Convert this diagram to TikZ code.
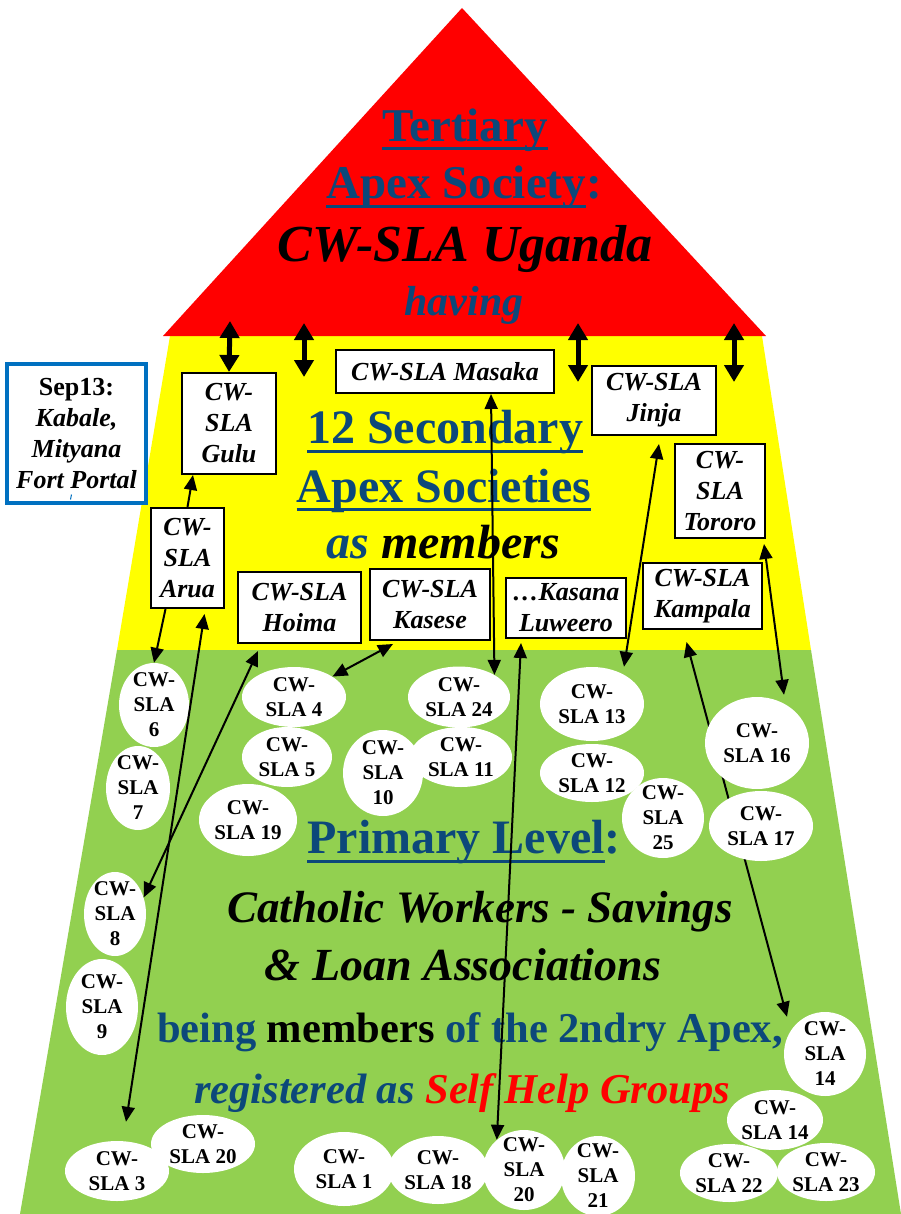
\documentclass[tikz,border=0pt]{standalone}
\usepackage{fontspec}
\setmainfont{Liberation Serif}
\usetikzlibrary{arrows.meta,shapes.geometric}
\definecolor{dblue}{RGB}{12,72,122}
\definecolor{pgreen}{RGB}{146,208,80}
\definecolor{boxblue}{RGB}{0,112,192}
\definecolor{pred}{RGB}{255,0,0}
\definecolor{pyellow}{RGB}{255,255,0}
\newcommand\myul[2][-9pt]{\setbox0=\hbox{#2}\rlap{\rule[#1]{\wd0}{3pt}}\box0}
\newcommand\ov[5]{\node[oval,minimum width=#3pt,minimum height=#4pt,label={[olbl]center:{#5}}] (#1) at (#2) {};}
\pgfdeclarelayer{back}\pgfdeclarelayer{mid}\pgfsetlayers{back,mid,main}
\begin{document}
\begin{tikzpicture}[x=1pt,y=-1pt,
  sbox/.style={draw=black,line width=2pt,fill=white,inner sep=0pt,align=center,font=\fontsize{26}{31}\selectfont\bfseries\itshape},
  oval/.style={ellipse,fill=white,inner sep=0pt},
  olbl/.style={align=center,inner sep=0pt,font=\fontsize{21}{25}\selectfont\bfseries},
  txt/.style={anchor=base,inner sep=0pt},
  conn/.style={line width=2pt,{Triangle[length=15pt,width=13pt]}-{Triangle[length=15pt,width=13pt]}},
  conn1/.style={line width=2pt,-{Triangle[length=15pt,width=13pt]}},
  link/.style={line width=5pt,{Triangle[length=17pt,width=19pt]}-{Triangle[length=17pt,width=19pt]}}]
\useasboundingbox (0,0) rectangle (901,1214);
\begin{pgfonlayer}{back}
\fill[pyellow] (170,336) -- (762,336) -- (811,650) -- (117,650) -- cycle;
\fill[pgreen] (117,650) -- (811,650) -- (901,1214) -- (20,1214) -- cycle;
\fill[pred] (462,8) -- (766,336) -- (163,336) -- cycle;
\end{pgfonlayer}

% red texts
\node[txt,font=\fontsize{47}{47}\selectfont\bfseries,text=dblue] (t1) at (465,142) {\myul[-8pt]{Tertiary}};
\node[txt,font=\fontsize{47}{47}\selectfont\bfseries,text=dblue] (t2) at (464,199) {\myul[-9pt]{Apex Society}:};
\node[txt,font=\fontsize{52}{52}\selectfont\bfseries\itshape] (t3) at (465,262) {CW-SLA Uganda};
\node[txt,font=\fontsize{42}{42}\selectfont\bfseries\itshape,text=dblue] (t4) at (464,315) {having};

% yellow texts
\node[txt,font=\fontsize{48}{48}\selectfont\bfseries,text=dblue] (s1) at (445,443) {\myul[-10pt]{12 Secondary}};
\node[txt,font=\fontsize{48}{48}\selectfont\bfseries,text=dblue] (s2) at (444,502) {\myul[-8.5pt]{Apex Societies}};
\node[txt,font=\fontsize{48}{48}\selectfont\bfseries\itshape] (s3) at (443,558) {\textcolor{dblue}{as} members};

% green texts
\node[txt,font=\fontsize{48}{48}\selectfont\bfseries,text=dblue] (p1) at (464,853) {\myul[-9.5pt]{Primary Level}:};
\node[txt,font=\fontsize{45}{45}\selectfont\bfseries\itshape] (p2) at (480,922) {Catholic Workers - Savings};
\node[txt,font=\fontsize{46}{46}\selectfont\bfseries\itshape] (p3) at (463,980) {\& Loan Associations};
\node[txt,font=\fontsize{42.5}{42.5}\selectfont\bfseries] (p4) at (470,1042) {\textcolor{dblue}{being} members \textcolor{dblue}{of the 2ndry Apex,}};
\node[txt,font=\fontsize{42.5}{42.5}\selectfont\bfseries\itshape] (p5) at (462,1103) {\textcolor{dblue}{registered as} \textcolor{pred}{Self Help Groups}};

% boxes
\node[sbox,draw=boxblue,line width=3.5pt,minimum width=139pt,minimum height=139pt] (sep) at (76.5,433.5) {{\upshape Sep13:}\\Kabale,\\Mityana\\Fort Portal};
\draw[boxblue,line width=1pt] (sep.center) ++(-5,61) -- ++(-1,5);
\node[sbox,minimum width=94pt,minimum height=101pt] (gulu) at (229,423.5) {CW-\\SLA\\Gulu};
\node[sbox,minimum width=73pt,minimum height=100pt] (arua) at (187.5,558) {CW-\\SLA\\Arua};
\node[sbox,minimum width=123pt,minimum height=71pt] (hoima) at (299.5,607.5) {CW-SLA\\Hoima};
\node[sbox,minimum width=120pt,minimum height=71pt] (kasese) at (430,604.5) {CW-SLA\\Kasese};
\node[sbox,minimum width=218pt,minimum height=43pt] (masaka) at (445,371.5) {CW-SLA Masaka};
\node[sbox,minimum width=124pt,minimum height=69pt] (jinja) at (654,400.5) {CW-SLA\\Jinja};
\node[sbox,minimum width=90pt,minimum height=94pt] (tororo) at (720,491) {CW-\\SLA\\Tororo};
\node[sbox,minimum width=120pt,minimum height=60pt] (kasana) at (566,608) {…Kasana\\Luweero};
\node[sbox,minimum width=119pt,minimum height=66pt] (kampala) at (702.5,596) {CW-SLA\\Kampala};

% ellipses
\ov{e6}{154,705}{70}{84}{CW-\\SLA\\6}
\ov{e7}{138,788}{64}{84}{CW-\\SLA\\7}
\ov{e4}{294,697}{104}{60}{CW-\\SLA 4}
\ov{e5}{287,757}{90}{60}{CW-\\SLA 5}
\ov{e19}{248,820}{98}{72}{CW-\\SLA 19}
\ov{e10}{383,773}{80}{86}{CW-\\SLA\\10}
\ov{e24}{459,697}{102}{61}{CW-\\SLA 24}
\ov{e11}{461,757}{102}{60}{CW-\\SLA 11}
\ov{e13}{592,704}{104}{74}{CW-\\SLA 13}
\ov{e12}{592,773}{104}{58}{CW-\\SLA 12}
\ov{e25}{663,818}{82}{80}{CW-\\SLA\\25}
\ov{e16}{757,743}{104}{92}{CW-\\SLA 16}
\ov{e17}{761,826}{104}{70}{CW-\\SLA 17}
\ov{e8}{115,914}{62}{84}{CW-\\SLA\\8}
\ov{e9}{102,1007}{72}{96}{CW-\\SLA\\9}
\ov{e3}{117,1171}{104}{60}{CW-\\SLA 3}
\ov{e20a}{203,1144}{104}{58}{CW-\\SLA 20}
\ov{e1}{344,1169}{100}{74}{CW-\\SLA 1}
\ov{e18}{438,1170}{100}{68}{CW-\\SLA 18}
\ov{e21}{598,1176}{74}{80}{CW-\\SLA\\21}
\ov{e20b}{524,1170}{82}{80}{CW-\\SLA\\20}
\ov{e14a}{825,1054}{82}{84}{CW-\\SLA\\14}
\ov{e22}{729,1173}{98}{58}{CW-\\SLA 22}
\ov{e23}{826,1172}{98}{58}{CW-\\SLA 23}
\ov{e14b}{775,1120}{96}{60}{CW-\\SLA 14}

% thick links red -> yellow
\coordinate (r1) at (230,321);
\coordinate (r2a) at (304,323); \coordinate (r2b) at (304,377);
\coordinate (r3a) at (578,323); \coordinate (r3b) at (578,382);
\coordinate (r4a) at (734,323); \coordinate (r4b) at (734,382);
\draw[link] (r1) -- (gulu.north);
\draw[link] (r2a) -- (r2b);
\draw[link] (r3a) -- (r3b);
\draw[link] (r4a) -- (r4b);

% thin connectors
\draw[conn1] (arua.north) -- ([xshift=-36pt]gulu.south);
\draw[conn1] ([xshift=-22pt]arua.south) -- (e6.north);
\draw[conn] ([xshift=17pt,yshift=-5pt]arua.south) -- ([xshift=9pt,yshift=19pt]e3.north);
\draw[conn] ([xshift=-41.5pt,yshift=-7pt]hoima.south) -- (e8.30);
\draw[conn] ([xshift=-37pt,yshift=-3pt]kasese.south) -- (e4.28);
\draw[conn] ([xshift=46pt]masaka.south) -- (e24.32);
\draw[conn] ([xshift=-45pt,yshift=-4pt]kasana.south) -- (e20b.132);
\draw[conn] ([xshift=5pt,yshift=-8pt]jinja.south) -- ([xshift=32pt]e13.north);
\draw[conn] ([xshift=-2pt,yshift=-5pt]tororo.south east) -- ([xshift=27pt,yshift=2pt]e16.north);
\begin{pgfonlayer}{mid}
\draw[conn] ([xshift=-16pt,yshift=-12pt]kampala.south) -- ([xshift=-38pt,yshift=-5pt]e14a.north);
\end{pgfonlayer}
\end{tikzpicture}
\end{document}
